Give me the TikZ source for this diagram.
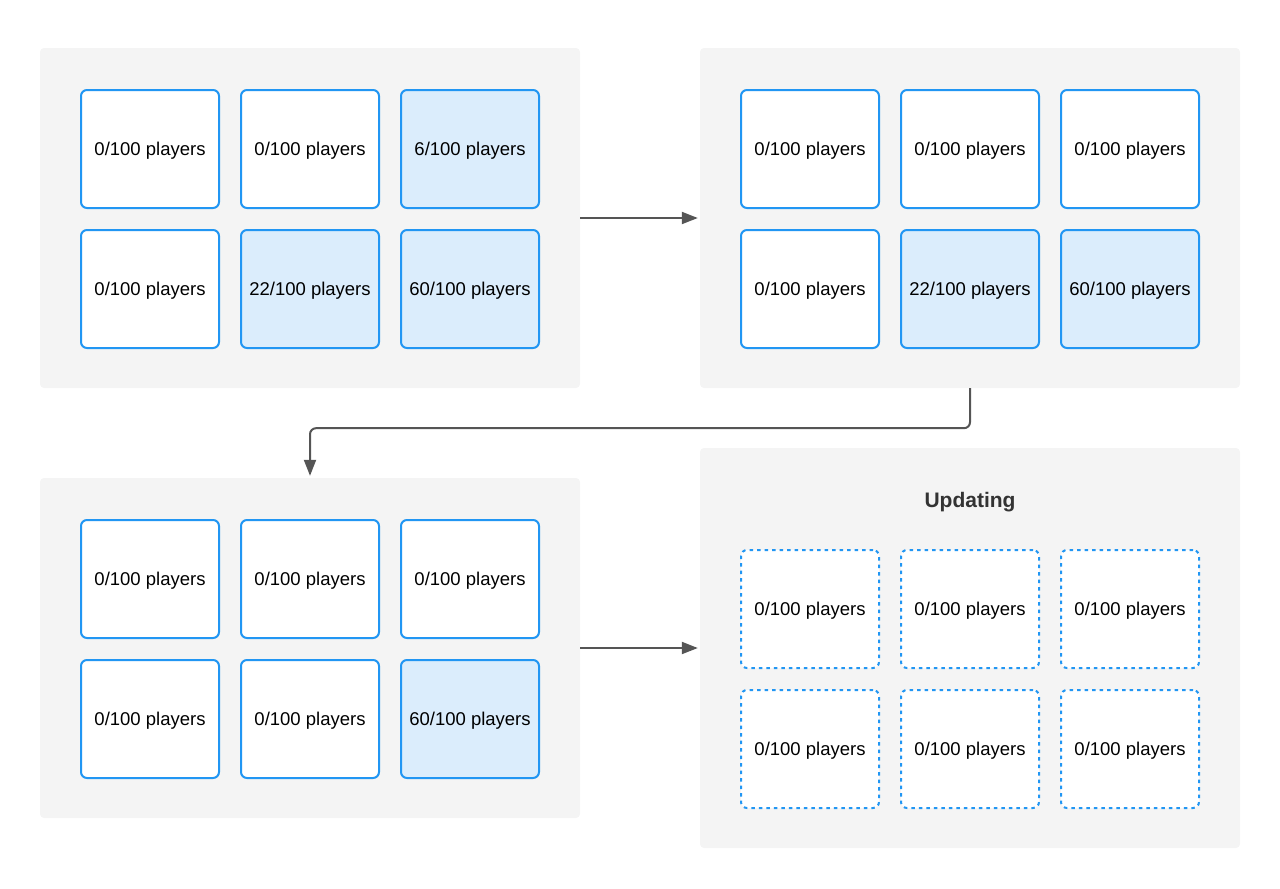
\documentclass[tikz,border=0pt]{standalone}
\usepackage{fontspec}
\setmainfont{Liberation Sans}
\usetikzlibrary{arrows.meta}
\definecolor{cellblue}{RGB}{33,150,243}
\definecolor{cellfill}{RGB}{219,237,252}
\definecolor{panelgray}{RGB}{244,244,244}
\definecolor{arrowgray}{RGB}{85,85,85}
\definecolor{titlegray}{RGB}{51,51,51}
\begin{document}
\begin{tikzpicture}[x=1pt,y=-1pt,
    panel/.style={fill=panelgray, rounded corners=4pt, minimum width=540pt, minimum height=340pt, inner sep=0pt},
    cell/.style={draw=cellblue, line width=2pt, fill=white, rounded corners=6pt, text depth=0pt,
      minimum width=138pt, minimum height=118pt, inner sep=0pt, font=\fontsize{18.5}{20}\selectfont},
    full/.style={cell, fill=cellfill},
    pending/.style={cell, dash pattern=on 3.5pt off 4pt},
    flow/.style={draw=arrowgray, line width=2pt, -{Triangle[length=16pt,width=12pt]}, rounded corners=6pt}]
  \useasboundingbox (0,0) rectangle (1280,889);
  % panels
  \node[panel] (pa) at (310,218) {};
  \node[panel] (pb) at (970,218) {};
  \node[panel] (pc) at (310,648) {};
  \node[panel, minimum height=400pt] (pd) at (970,648) {};
  % first state
  \node[cell] (a1) at (150,149) {0/100 players};
  \node[cell] (a2) at (310,149) {0/100 players};
  \node[full] (a3) at (470,149) {6/100 players};
  \node[cell] (a4) at (150,289) {0/100 players};
  \node[full] (a5) at (310,289) {22/100 players};
  \node[full] (a6) at (470,289) {60/100 players};
  % second state
  \node[cell] (b1) at (810,149) {0/100 players};
  \node[cell] (b2) at (970,149) {0/100 players};
  \node[cell] (b3) at (1130,149) {0/100 players};
  \node[cell] (b4) at (810,289) {0/100 players};
  \node[full] (b5) at (970,289) {22/100 players};
  \node[full] (b6) at (1130,289) {60/100 players};
  % third state
  \node[cell] (c1) at (150,579) {0/100 players};
  \node[cell] (c2) at (310,579) {0/100 players};
  \node[cell] (c3) at (470,579) {0/100 players};
  \node[cell] (c4) at (150,719) {0/100 players};
  \node[cell] (c5) at (310,719) {0/100 players};
  \node[full] (c6) at (470,719) {60/100 players};
  % updating state
  \node[font=\fontsize{21}{24}\selectfont\bfseries, text=titlegray, text depth=0pt] (dt) at (970,500) {Updating};
  \node[pending] (d1) at (810,609) {0/100 players};
  \node[pending] (d2) at (970,609) {0/100 players};
  \node[pending] (d3) at (1130,609) {0/100 players};
  \node[pending] (d4) at (810,749) {0/100 players};
  \node[pending] (d5) at (970,749) {0/100 players};
  \node[pending] (d6) at (1130,749) {0/100 players};
  \begin{scope}[shorten >=2pt]
    \draw[flow] (pa.east) -- (pb.west);
    \draw[flow] (pb.south) -- ++(0,40) -| (pc.north);
    \draw[flow] (pc.east) -- (pd.west);
  \end{scope}
\end{tikzpicture}
\end{document}
